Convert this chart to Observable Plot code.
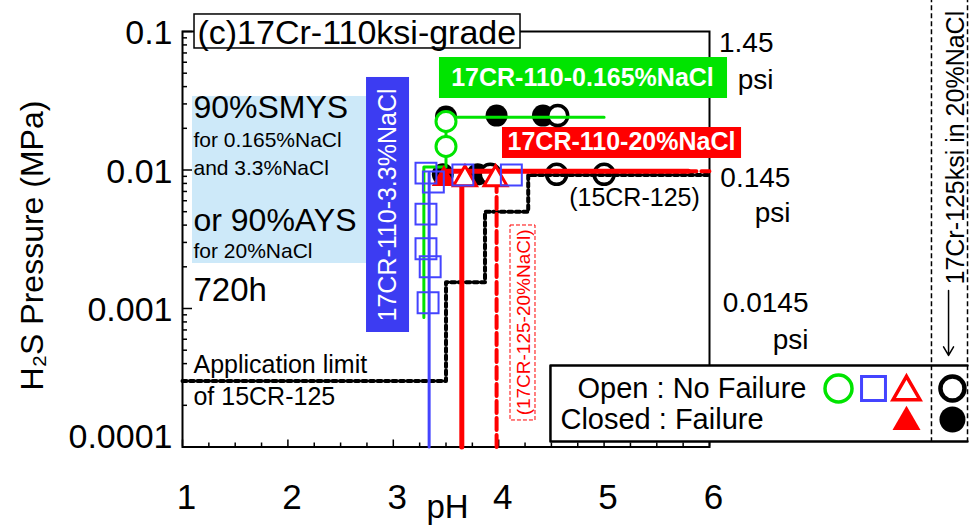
<!DOCTYPE html>
<html><head><meta charset="utf-8">
<script src="https://cdn.jsdelivr.net/npm/d3@7"></script>
<script src="https://cdn.jsdelivr.net/npm/@observablehq/plot@0.6"></script>
<style>body{margin:0;background:#fff}svg{display:block}</style>
</head><body><div id="chart"></div>
<script>
// ---- axes ----
const xTicks = [1, 2, 3, 4, 5, 6];
const xMinorTicks = [1.25,1.5,1.75,2.25,2.5,2.75,3.25,3.5,3.75,4.25,4.5,4.75,5.25,5.5,5.75];
const yTicks = [0.1, 0.01, 0.001, 0.0001];
const yTickLabels = ["0.1", "0.01", "0.001", "0.0001"];
const yMinorTicks = [2e-4,3e-4,4e-4,5e-4,6e-4,7e-4,8e-4,9e-4,2e-3,3e-3,4e-3,5e-3,6e-3,7e-3,8e-3,9e-3,2e-2,3e-2,4e-2,5e-2,6e-2,7e-2,8e-2,9e-2];
const psiLabels = ["1.45", "0.145", "0.0145"];

// ---- 17CR-110 in 0.165%NaCl (green, open circles = no failure) ----
const greenPH = [3.5, 3.5];
const greenP  = [0.0224, 0.0148];
const greenPathPH = [5.0, 3.5, 3.5, 3.29, 3.29];
const greenPathP  = [0.024, 0.024, 0.0105, 0.0105, 0.00086];

// ---- 17CR-110 in 3.3%NaCl (blue squares) ----
const bluePH = [3.31, 3.38, 3.31, 3.31, 3.35, 3.33, 3.66, 4.12];
const blueP  = [0.0095, 0.0082, 0.0048, 0.0027, 0.0020, 0.0011, 0.0092, 0.0092];
const blueLimitPH = [3.34, 3.34];
const blueLimitP  = [0.0001, 0.0095];

// ---- 17CR-110 in 20%NaCl (red triangles) ----
const redOpenPH = [3.68, 3.97];
const redOpenP  = [0.0086, 0.0086];
const redFailPH = [3.48];
const redFailP  = [0.0086];
const redLimitPH = [3.65, 3.65, 3.48, 5.8];
const redLimitP  = [0.0001, 0.0098, 0.0098, 0.0098];
const redTailPH = [5.8, 6.0];
const redTailP  = [0.0098, 0.0098];
const red125PH = [3.98, 3.98];
const red125P  = [0.0001, 0.0088];

// ---- 17Cr-125ksi in 20%NaCl / 15CR-125 (black circles) ----
const blackFailPH = [3.5, 3.98, 4.42, 3.47, 3.8];
const blackFailP  = [0.0243, 0.0247, 0.0247, 0.0093, 0.0093];
const blackOpenPH = [4.56, 3.92, 4.55, 5.0];
const blackOpenP  = [0.0247, 0.0093, 0.0093, 0.0093];

// ---- application limit of 15CR-125 (dotted) ----
const limitPH = [1.0, 3.5, 3.5, 3.87, 3.87, 4.28, 4.28, 6.0];
const limitP  = [0.0003, 0.0003, 0.00155, 0.00155, 0.005, 0.005, 0.0092, 0.0092];

const zip = (xs, ys) => xs.map((x, i) => ({x, y: ys[i]}));
const label = (t, x, y, o = {}) => Plot.text([{t, x, y}], {x: "x", y: "y", text: "t", ...o});
const box = (x1, x2, y1, y2, o = {}) => Plot.rect([{x1, x2, y1, y2}], {x1: "x1", x2: "x2", y1: "y1", y2: "y2", ...o});

const GREEN = "#00e400", RED = "#ff0000", BLUE = "#3c3cf2", SQ = "#4444ff", LIGHT = "#cde9f9";

const chart = Plot.plot({
  width: 970, height: 526,
  marginLeft: 182, marginRight: 261, marginTop: 31, marginBottom: 79.5,
  style: {fontFamily: "'Liberation Sans', Arial, sans-serif", background: "white", color: "black", overflow: "visible"},
  x: {domain: [1, 6]},
  y: {type: "log", domain: [1e-4, 0.1]},
  marks: [
    box(1.095, 2.746, 0.03395, 0.002113, {fill: LIGHT}),
    Plot.frame({stroke: "black", strokeWidth: 2}),
    Plot.axisX(xMinorTicks, {tickSize: -4, tickFormat: () => "", strokeWidth: 1.5, label: null}),
    Plot.axisX(xTicks, {tickSize: -7, tickFormat: () => "", strokeWidth: 1.5, label: null}),
    Plot.axisX(xTicks, {tickSize: 0, tickPadding: 37, fontSize: 35, dx: 4, label: null}),
    Plot.axisY(yMinorTicks, {tickSize: -5, tickFormat: () => "", strokeWidth: 1.5, label: null}),
    Plot.axisY(yTicks, {tickSize: -10, tickFormat: () => "", strokeWidth: 1.5, label: null}),
    Plot.axisY(yTicks.slice(0, 3), {tickSize: 0, tickPadding: 10, fontSize: 34, dy: 2, label: null,
      tickFormat: d => yTickLabels[yTicks.indexOf(d)]}),
    Plot.axisY(yTicks.slice(3), {tickSize: 0, tickPadding: 10, fontSize: 34, dy: -10, label: null,
      tickFormat: d => yTickLabels[yTicks.indexOf(d)]}),
    label("H\u2082S Pressure (MPa)", -0.423, 0.00285, {rotate: -90, fontSize: 32}),
    label("pH", 3.514, 3.66e-5, {fontSize: 33}),

    // panel title
    box(1.114, 4.207, 0.1327, 0.0754, {fill: "white", stroke: "black", strokeWidth: 1.5}),
    label("(c)17Cr-110ksi-grade", 1.142, 0.0967, {textAnchor: "start", fontSize: 34}),

    // stress notes
    label("90%SMYS", 1.104, 0.02828, {textAnchor: "start", fontSize: 32}),
    label("for 0.165%NaCl", 1.104, 0.01633, {textAnchor: "start", fontSize: 21}),
    label("and 3.3%NaCl", 1.104, 0.01026, {textAnchor: "start", fontSize: 21}),
    label("or 90%AYS", 1.104, 0.004319, {textAnchor: "start", fontSize: 32}),
    label("for 20%NaCl", 1.104, 0.002582, {textAnchor: "start", fontSize: 21}),
    label("720h", 1.104, 0.001349, {textAnchor: "start", fontSize: 33}),
    label("Application limit", 1.104, 0.0003877, {textAnchor: "start", fontSize: 25}),
    label("of 15CR-125", 1.104, 0.0002278, {textAnchor: "start", fontSize: 25}),

    // series labels
    box(2.746, 3.154, 0.04656, 0.000671, {fill: BLUE}),
    label("17CR-110-3.3%NaCl", 2.954, 0.005591, {rotate: -90, fontSize: 25, fill: "white"}),
    box(3.438, 6.171, 0.0649, 0.03283, {fill: GREEN}),
    label("17CR-110-0.165%NaCl", 4.795, 0.04617, {fontSize: 25, fontWeight: "bold", fill: "white"}),
    box(4.036, 6.304, 0.02027, 0.01211, {fill: RED}),
    label("17CR-110-20%NaCl", 5.165, 0.0158, {fontSize: 25, fontWeight: "bold", fill: "white"}),
    label("(15CR-125)", 5.288, 0.00623, {fontSize: 25}),
    box(4.112, 4.349, 0.003975, 0.0001554, {fill: "white", stroke: RED, strokeWidth: 1, strokeDasharray: "4,2"}),
    label("(17CR-125-20%NaCl)", 4.235, 0.000793, {rotate: -90, fontSize: 19, fill: RED}),

    // black circles (17Cr-125ksi in 20%NaCl, 15CR-125)
    Plot.dot(zip(blackFailPH, blackFailP), {x: "x", y: "y", r: 11, fill: "black"}),
    Plot.dot(zip(blackOpenPH, blackOpenP), {x: "x", y: "y", r: 10, fill: "white", stroke: "black", strokeWidth: 3.5}),

    // lines
    Plot.line(zip(limitPH, limitP), {x: "x", y: "y", stroke: "black", strokeWidth: 4, strokeDasharray: "4,3.5"}),
    Plot.line(zip(greenPathPH, greenPathP), {x: "x", y: "y", stroke: GREEN, strokeWidth: 3}),
    Plot.dot(zip(greenPH, greenP), {x: "x", y: "y", r: 10, fill: "white", stroke: GREEN, strokeWidth: 3}),
    Plot.line(zip(blueLimitPH, blueLimitP), {x: "x", y: "y", stroke: SQ, strokeWidth: 3}),
    Plot.line(zip(redLimitPH, redLimitP), {x: "x", y: "y", stroke: RED, strokeWidth: 5}),
    Plot.line(zip(redTailPH, redTailP), {x: "x", y: "y", stroke: RED, strokeWidth: 4, strokeDasharray: "8,5"}),
    Plot.line(zip(red125PH, red125P), {x: "x", y: "y", stroke: RED, strokeWidth: 4, strokeDasharray: "12,5"}),

    // triangles and squares
    Plot.dot(zip(redFailPH, redFailP), {x: "x", y: "y", symbol: "triangle", r: 9, fill: RED}),
    Plot.dot(zip(redOpenPH, redOpenP), {x: "x", y: "y", symbol: "triangle", r: 8.5, fill: "white", stroke: RED, strokeWidth: 3}),
    Plot.dot(zip(bluePH, blueP), {x: "x", y: "y", symbol: "square", r: 11.8, fill: "none", stroke: SQ, strokeWidth: 2}),

    // psi labels at right
    label(psiLabels[0], 6.607, 0.0819, {textAnchor: "end", fontSize: 28}),
    label("psi", 6.607, 0.04428, {textAnchor: "end", fontSize: 28}),
    label(psiLabels[1], 6.768, 0.008683, {textAnchor: "end", fontSize: 28}),
    label("psi", 6.768, 0.004852, {textAnchor: "end", fontSize: 28}),
    label(psiLabels[2], 6.939, 0.001087, {textAnchor: "end", fontSize: 28}),
    label("psi", 6.939, 0.0005875, {textAnchor: "end", fontSize: 28}),

    // legend
    box(4.491, 8.448, 0.0003877, 0.0001095, {fill: "white"}),
    Plot.line(zip([8.448, 4.491, 4.491, 8.448], [0.0003877, 0.0003877, 0.0001095, 0.0001095]),
      {x: "x", y: "y", stroke: "black", strokeWidth: 2.5}),
    label("Open : No Failure", 4.748, 0.0002645, {textAnchor: "start", fontSize: 29}),
    label("Closed : Failure", 4.586, 0.000158, {textAnchor: "start", fontSize: 29}),
    Plot.dot([{x: 7.224, y: 0.0002645}], {x: "x", y: "y", r: 13.5, stroke: GREEN, strokeWidth: 3.5}),
    Plot.dot([{x: 7.556, y: 0.0002645}], {x: "x", y: "y", r: 13.5, symbol: "square", stroke: SQ, strokeWidth: 3}),
    Plot.dot([{x: 7.869, y: 0.00025}], {x: "x", y: "y", r: 10, symbol: "triangle", stroke: RED, strokeWidth: 3.5}),
    Plot.dot([{x: 7.869, y: 0.000152}], {x: "x", y: "y", r: 10.4, symbol: "triangle", fill: RED}),
    Plot.dot([{x: 8.305, y: 0.0002645}], {x: "x", y: "y", r: 12, stroke: "black", strokeWidth: 4.5}),
    Plot.dot([{x: 8.305, y: 0.000158}], {x: "x", y: "y", r: 13, fill: "black"}),
    Plot.ruleX([8.106, 8.448], {y1: 0.2, y2: 0.0001095, stroke: "black", strokeWidth: 1.5, strokeDasharray: "5,3"}),
    label("17Cr-125ksi in 20%NaCl", 8.334, 0.0145, {rotate: -90, fontSize: 25}),
    Plot.arrow([{x1: 8.268, y1: 0.00135, x2: 8.268, y2: 0.000458}], {x1: "x1", y1: "y1", x2: "x2", y2: "y2", stroke: "black", strokeWidth: 1.5, headLength: 10})
  ]
});
document.getElementById("chart").appendChild(chart);
</script>
</body></html>
